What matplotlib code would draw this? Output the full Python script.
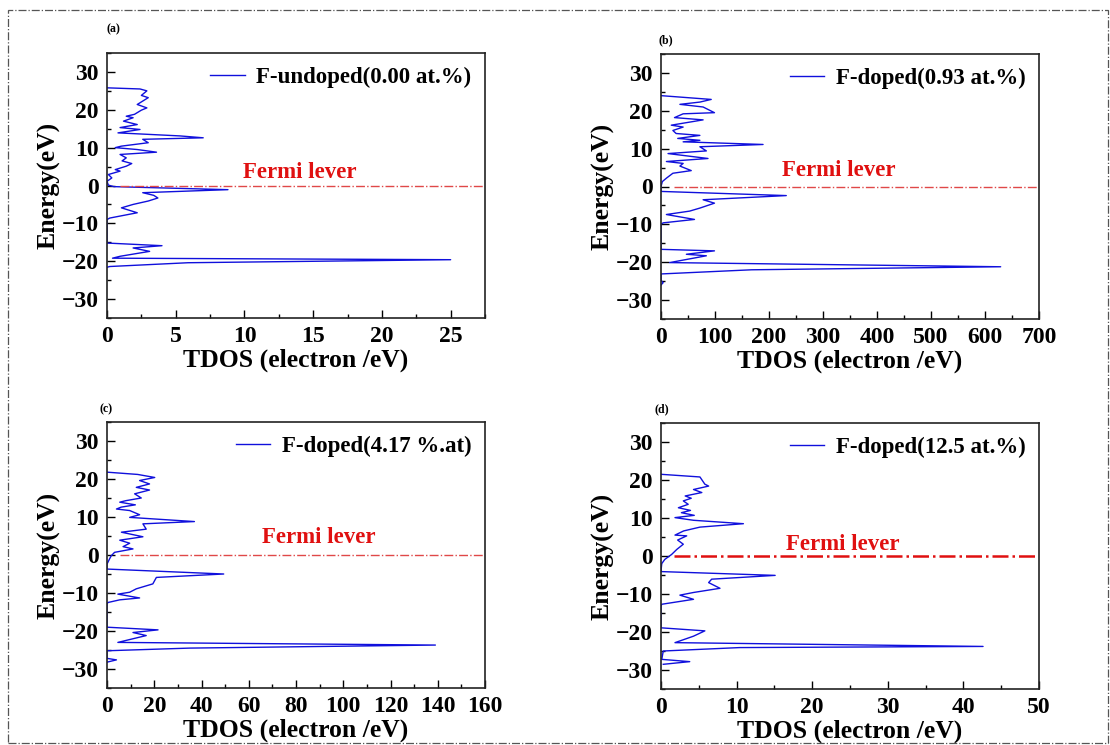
import matplotlib
matplotlib.use("Agg")
import matplotlib.pyplot as plt
from matplotlib.ticker import MultipleLocator
from matplotlib.patches import Rectangle

plt.rcParams['font.family'] = ['Liberation Serif', 'DejaVu Serif']
plt.rcParams['font.weight'] = 'bold'
plt.rcParams['axes.labelweight'] = 'bold'

# (a) F-undoped (0.00 at.%)
energy_a = [25.8, 25.5, 25.0, 23.8, 23.2, 22.3, 21.4, 20.5, 19.9, 18.8, 18.3, 17.9, 17.0,
            16.1, 15.3, 14.8, 13.9, 13.1, 12.6, 12.2, 11.3, 10.4, 10.0, 9.5, 8.8, 8.2,
            7.3, 6.5, 5.8, 5.1, 4.2, 3.8, 2.9, 2.0, 1.1, 0.1, -0.3, -1.1, -1.9, -2.6,
            -3.3, -4.1, -5.0, -5.9, -7.2, -8.6, -9.0, -15.2, -15.9, -16.5, -17.4, -18.7,
            -19.2, -19.6, -20.4, -21.4, -21.6]
tdos_a = [0, 2.4, 2.9, 2.5, 3.0, 2.6, 2.2, 2.9, 2.5, 2.0, 1.4, 1.9, 1.2,
          2.2, 0.95, 2.4, 0.8, 5.3, 7.0, 2.6, 3.0, 1.05, 0.6, 2.2, 3.6, 0.95,
          1.4, 1.1, 1.8, 1.4, 0.6, 0.95, 0.1, 0.35, 0, 0.1, 0.5, 8.8, 2.6, 3.4,
          3.7, 3.0, 1.9, 1.05, 2.2, 0.2, 0, 0, 4.0, 1.9, 3.1, 0.95,
          0.4, 25.0, 5.9, 0.2, 0]

# (b) F-doped (0.93 at.%)
energy_b = [24.0, 23.0, 22.3, 21.7, 21.0, 19.5, 19.2, 18.2, 17.6, 16.2, 15.7, 14.8, 14.0,
            13.5, 12.7, 12.2, 11.8, 11.1, 10.5, 9.4, 8.7, 7.4, 6.6, 6.1, 5.4, 4.2, 3.5,
            2.2, 1.3, 0.0, -1.3, -2.4, -3.5, -4.4, -5.7, -6.5, -7.4, -8.7, -9.6, -10.0,
            -16.6, -17.0, -17.9, -18.3, -20.1, -21.2, -22.0, -23.1, -24.8, -25.4, -26.0]
tdos_b = [0, 93, 72, 35, 78, 99, 41, 25, 78, 19, 41, 22, 28,
          72, 31, 72, 41, 189, 72, 84, 13, 87, 10, 41, 35, 56, 22,
          10, 2.5, 0, 0, 232, 78, 99, 72, 53, 10, 62, 4, 0,
          0, 99, 47, 84, 16, 629, 168, 0, 0, 4, 0]

# (c) F-doped (4.17 %.at)
energy_c = [21.8, 21.2, 20.4, 19.6, 18.7, 17.8, 17.1, 16.1, 15.0, 14.3, 13.9, 13.2, 12.6,
            12.1, 11.7, 10.6, 9.9, 8.8, 8.2, 6.8, 6.0, 4.8, 3.9, 3.1, 2.2, 1.6, 0.7,
            -0.2, -1.0, -2.4, -3.7, -5.0, -5.9, -7.6, -8.9, -9.8, -10.3, -11.3, -11.8,
            -12.5, -12.9, -19.0, -19.7, -20.4, -21.2, -23.0, -23.7, -24.5, -25.2, -27.2,
            -27.6, -28.2]
tdos_c = [0, 13, 20.2, 13.8, 18, 12.4, 18, 11.7, 14.5, 8, 5.4, 12, 6,
          4, 9.6, 13.8, 9.6, 37, 15.2, 16.6, 6.1, 15.2, 5.4, 9.6, 6.8, 11, 3.2,
          1.8, 1.1, 0, 0, 49.4, 20.9, 19.4, 12.4, 9.6, 4.6, 13.8, 5.4,
          0.4, 0, 0, 21.6, 11, 16.6, 4.6, 139, 35, 0, 0,
          4, 0]

# (d) F-doped (12.5 at.%)
energy_d = [21.5, 20.8, 18.9, 18.4, 17.5, 16.7, 15.8, 15.2, 14.5, 13.6, 12.7, 12.0, 11.4,
            10.7, 10.1, 9.4, 8.5, 7.6, 6.6, 5.5, 5.3, 4.2, 3.1, 1.75, 0.4, -0.9, -2.0,
            -3.9, -4.1, -5.1, -6.1, -7.0, -8.5, -9.6, -10.3, -11.4, -12.7, -13.2, -18.9,
            -19.7, -21.1, -22.8, -23.8, -24.1, -25.0, -27.2, -27.8, -28.5]
tdos_d = [0, 5.15, 5.8, 6.3, 4.3, 5.4, 3.2, 4.0, 2.95, 3.6, 2.3, 3.9, 2.7,
          4.4, 1.85, 4.3, 10.9, 5.15, 3.0, 1.85, 3.4, 2.2, 2.95, 2.1, 1.4, 0.5, 0.1,
          0, 0, 15.1, 6.7, 6.3, 7.8, 4.3, 2.5, 4.3, 0.1, 0, 0,
          5.8, 4.3, 1.85, 42.6, 10.4, 0.3, 0.1, 3.8, 0.3]

energies = [energy_a, energy_b, energy_c, energy_d]
tdos = [tdos_a, tdos_b, tdos_c, tdos_d]
series_labels = ['F-undoped(0.00 at.%)', 'F-doped(0.93 at.%)',
                 'F-doped(4.17 %.at)', 'F-doped(12.5 at.%)']
panel_tags = ['(a)', '(b)', '(c)', '(d)']
x_max = [27.5, 700, 160, 50]
x_step = [5, 100, 20, 10]

W, H = 1110, 745
fig = plt.figure(figsize=(W / 100, H / 100), dpi=100)

# axes boxes in pixels: left, top, width, height
boxes = [(107, 53, 378, 265), (661, 54, 378, 265),
         (107, 422, 378, 266), (661, 423, 378, 266)]
fermi_pos = [(0.51, 0.55), (0.47, 0.56), (0.56, 0.565), (0.48, 0.545)]
tag_pos = [(113, 29), (666, 40), (106, 409), (662, 409)]

for i in range(4):
    l, t, w, h = boxes[i]
    ax = fig.add_axes([l / W, 1 - (t + h) / H, w / W, h / H])
    ax.plot(tdos[i], energies[i], color='#1010dc', lw=1.0, label=series_labels[i])

    lw_f = 1.8 if i == 3 else 1.0
    col_f = '#e01010' if i == 3 else '#e04848'
    ax.axhline(0, xmin=0.035, xmax=1, color=col_f, ls='-.', lw=lw_f)

    ax.set_xlim(0, x_max[i])
    ax.set_ylim(-35, 35)
    ax.xaxis.set_major_locator(MultipleLocator(x_step[i]))
    ax.xaxis.set_minor_locator(MultipleLocator(x_step[i] / 2))
    ax.yaxis.set_major_locator(MultipleLocator(10))
    ax.yaxis.set_minor_locator(MultipleLocator(5))
    ax.tick_params(which='both', direction='in', top=False, right=False, width=1.0)
    ax.tick_params(which='major', length=6, labelsize=17, pad=6)
    ax.tick_params(which='minor', length=3)
    for s in ax.spines.values():
        s.set_linewidth(1.2)
        s.set_color('#222222')

    ax.set_xlabel('TDOS (electron /eV)', fontsize=18.5, labelpad=1)
    ax.set_ylabel('Energy(eV)', fontsize=18.5, labelpad=1)

    ax.text(fermi_pos[i][0], fermi_pos[i][1], 'Fermi lever', transform=ax.transAxes,
            color='#e01010', fontsize=16.5, fontweight='bold', ha='center', va='center')

    ax.legend(loc='upper right', frameon=False, prop={'size': 16.5, 'weight': 'bold'},
              handlelength=1.5, handletextpad=0.5, borderaxespad=0.2)

    fig.text(tag_pos[i][0] / W, 1 - tag_pos[i][1] / H, panel_tags[i],
             fontsize=8.5, fontweight='bold', ha='center', va='center')

# dash-dot frame round the whole figure
frame = Rectangle((8 / W, 2 / H), 1100 / W, 733 / H, transform=fig.transFigure,
                  fill=False, ls='-.', lw=0.9, edgecolor='#555555')
fig.patches.append(frame)

fig.savefig('out.png', dpi=100)
